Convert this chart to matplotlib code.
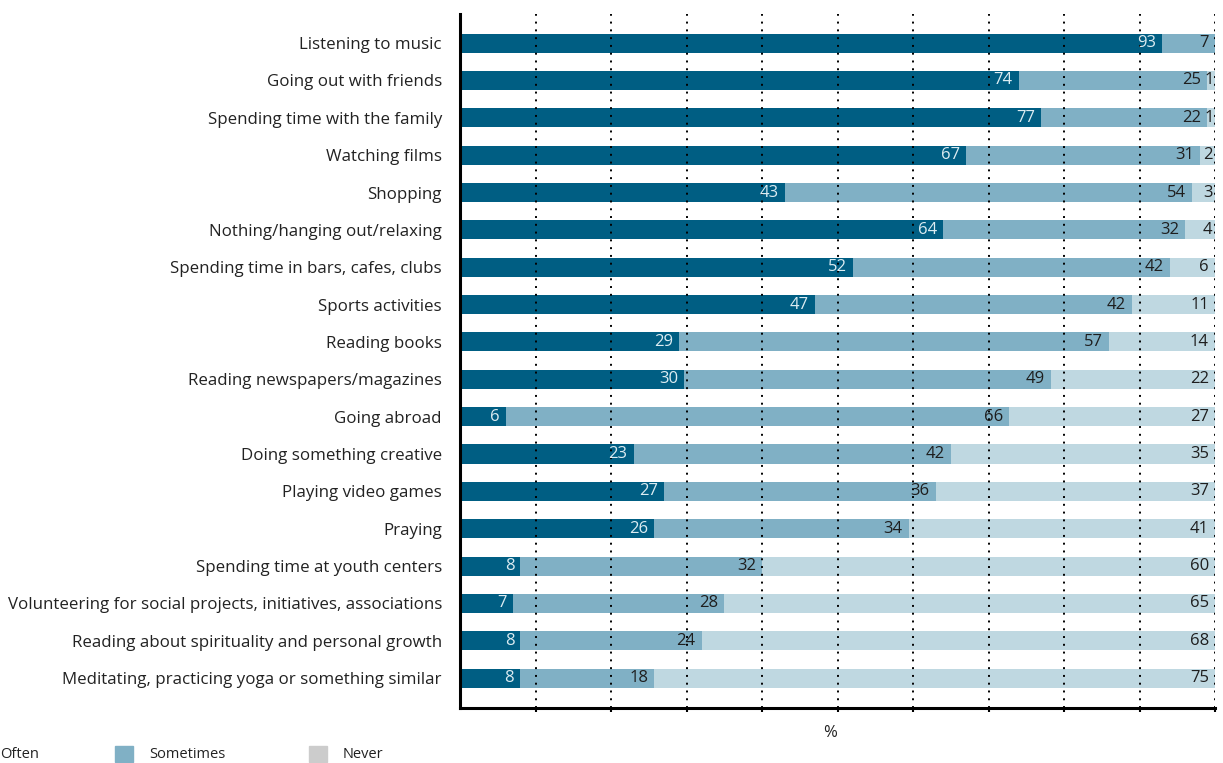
#!/usr/bin/env python3
"""Leisure activities of young people: often / sometimes / never (%)."""

import matplotlib

matplotlib.use("Agg")
import matplotlib.pyplot as plt
from matplotlib.patches import Rectangle
import numpy as np

plt.rcParams["font.family"] = ["Open Sans", "DejaVu Sans"]

activities = [
    "Listening to music",
    "Going out with friends",
    "Spending time with the family",
    "Watching films",
    "Shopping",
    "Nothing/hanging out/relaxing",
    "Spending time in bars, cafes, clubs",
    "Sports activities",
    "Reading books",
    "Reading newspapers/magazines",
    "Going abroad",
    "Doing something creative",
    "Playing video games",
    "Praying",
    "Spending time at youth centers",
    "Volunteering for social projects, initiatives, associations",
    "Reading about spirituality and personal growth",
    "Meditating, practicing yoga or something similar",
]
often = [93, 74, 77, 67, 43, 64, 52, 47, 29, 30, 6, 23, 27, 26, 8, 7, 8, 8]
sometimes = [7, 25, 22, 31, 54, 32, 42, 42, 57, 49, 66, 42, 36, 34, 32, 28, 24, 18]
never = [0, 1, 1, 2, 3, 4, 6, 11, 14, 22, 27, 35, 37, 41, 60, 65, 68, 75]

series_names = ["Often", "Sometimes", "Never"]
bar_colors = ["#005e83", "#80b0c5", "#bfd8e1"]
legend_colors = ["#005e83", "#80b0c5", "#cccccc"]
text_colors = ["#dcecf2", "#1e1e1e", "#1e1e1e"]

W, H = 1223, 763
fig = plt.figure(figsize=(W / 100, H / 100), dpi=100)
ax = fig.add_axes([460 / W, 1 - 708 / H, 755 / W, 694 / H])

raw = np.array([often, sometimes, never], dtype=float)
# rounded shares don't always add to 100; bars are scaled to fill the row
scale = 100.0 / raw.sum(axis=0)

y = np.arange(len(activities))
left = np.zeros(len(activities))
for vals, color, tcol in zip(raw, bar_colors, text_colors):
    widths = vals * scale
    ax.barh(y, widths, left=left, height=0.51, color=color, zorder=1)
    for yi, (l, w, v) in enumerate(zip(left, widths, vals)):
        if v <= 0:
            continue
        # tiny segments get a tighter offset so neighbouring labels don't collide
        off = 0.1 if v < 2 else (0.3 if v < 5 else 0.8)
        ax.text(l + w - off, yi, f"{int(v)}", ha="right", va="center",
                fontsize=12, color=tcol, zorder=3)
    left += widths

ax.set_xlim(0, 100)
ax.set_ylim(len(activities) - 0.2, -0.78)
ax.set_yticks(y)
ax.set_yticklabels(activities, fontsize=12.2, color="#222222")
ax.tick_params(axis="y", length=0, pad=13)
ax.set_xticks(np.arange(10, 101, 10))
ax.set_xticklabels([])
ax.tick_params(axis="x", length=3, width=1.5, color="black", direction="out")
for gx in np.arange(10, 101, 10):
    ax.axvline(gx, color="black", linestyle=(0, (1, 3)), linewidth=1.4, zorder=2)

for side in ["top", "right"]:
    ax.spines[side].set_visible(False)
ax.spines["left"].set_linewidth(2.2)
ax.spines["bottom"].set_linewidth(2.2)

fig.text(830 / W, 1 - 733 / H, "%", ha="center", va="center", fontsize=12, color="#222222")

# legend drawn along the bottom edge
legend_x = [-34, 115, 309]
for x0, name, color in zip(legend_x, series_names, legend_colors):
    fig.patches.append(Rectangle((x0 / W, 1 - 762 / H), 18 / W, 16 / H,
                                 transform=fig.transFigure, color=color))
    fig.text((x0 + 34) / W, 1 - 754 / H, name, ha="left", va="center",
             fontsize=10.5, color="#222222")

fig.savefig("out.png", dpi=100)
